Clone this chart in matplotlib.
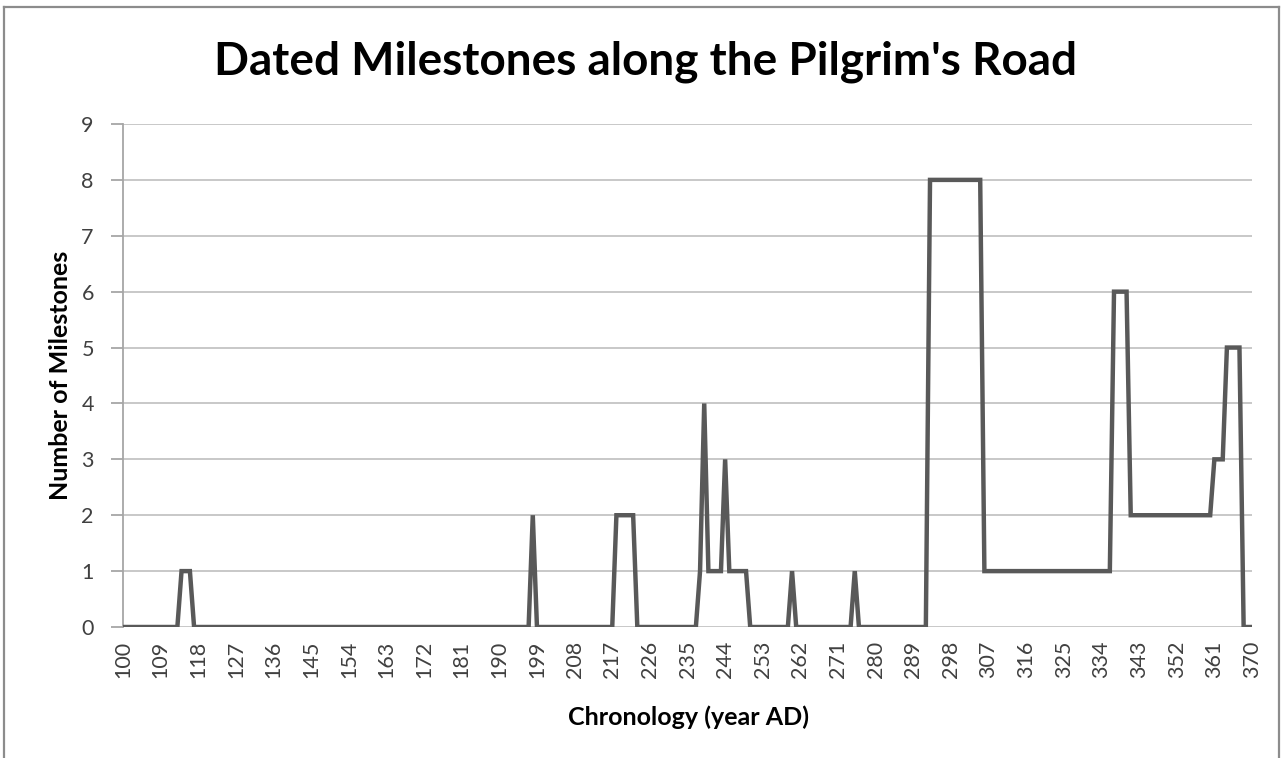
import matplotlib
matplotlib.use("Agg")
import matplotlib.pyplot as plt

# ---- data ----
years = list(range(100, 371))
counts = [
    0, 0, 0, 0, 0, 0, 0, 0, 0, 0,   # 100-109
    0, 0, 0, 0, 1, 1, 1, 0, 0, 0,   # 110-119
    0, 0, 0, 0, 0, 0, 0, 0, 0, 0,   # 120-129
    0, 0, 0, 0, 0, 0, 0, 0, 0, 0,   # 130-139
    0, 0, 0, 0, 0, 0, 0, 0, 0, 0,   # 140-149
    0, 0, 0, 0, 0, 0, 0, 0, 0, 0,   # 150-159
    0, 0, 0, 0, 0, 0, 0, 0, 0, 0,   # 160-169
    0, 0, 0, 0, 0, 0, 0, 0, 0, 0,   # 170-179
    0, 0, 0, 0, 0, 0, 0, 0, 0, 0,   # 180-189
    0, 0, 0, 0, 0, 0, 0, 0, 2, 0,   # 190-199
    0, 0, 0, 0, 0, 0, 0, 0, 0, 0,   # 200-209
    0, 0, 0, 0, 0, 0, 0, 0, 2, 2,   # 210-219
    2, 2, 2, 0, 0, 0, 0, 0, 0, 0,   # 220-229
    0, 0, 0, 0, 0, 0, 0, 0, 1, 4,   # 230-239
    1, 1, 1, 1, 3, 1, 1, 1, 1, 1,   # 240-249
    0, 0, 0, 0, 0, 0, 0, 0, 0, 0,   # 250-259
    1, 0, 0, 0, 0, 0, 0, 0, 0, 0,   # 260-269
    0, 0, 0, 0, 0, 1, 0, 0, 0, 0,   # 270-279
    0, 0, 0, 0, 0, 0, 0, 0, 0, 0,   # 280-289
    0, 0, 0, 8, 8, 8, 8, 8, 8, 8,   # 290-299
    8, 8, 8, 8, 8, 8, 1, 1, 1, 1,   # 300-309
    1, 1, 1, 1, 1, 1, 1, 1, 1, 1,   # 310-319
    1, 1, 1, 1, 1, 1, 1, 1, 1, 1,   # 320-329
    1, 1, 1, 1, 1, 1, 1, 6, 6, 6,   # 330-339
    6, 2, 2, 2, 2, 2, 2, 2, 2, 2,   # 340-349
    2, 2, 2, 2, 2, 2, 2, 2, 2, 2,   # 350-359
    2, 3, 3, 3, 5, 5, 5, 5, 0, 0,   # 360-369
    0,                              # 370
]
tick_labels = [str(y) for y in range(100, 371, 9)]
y_ticks = list(range(0, 10))

title = "Dated Milestones along the Pilgrim's Road"
xlabel = "Chronology (year AD)"
ylabel = "Number of Milestones"

# ---- styling ----
FONT = ["Lato", "DejaVu Sans"]
plt.rcParams["font.family"] = FONT

W, H = 1282, 758
fig = plt.figure(figsize=(W / 100, H / 100), dpi=100)
fig.patch.set_facecolor("white")

# outer chart border (left, top, right; bottom cut off)
border = dict(color="#8c8c8c", lw=1.6, transform=fig.transFigure)
fig.add_artist(plt.Line2D([4 / W, 4 / W], [0, 1 - 7 / H], **border))
fig.add_artist(plt.Line2D([4 / W, 1279 / W], [1 - 7 / H, 1 - 7 / H], **border))
fig.add_artist(plt.Line2D([1279 / W, 1279 / W], [0, 1 - 7 / H], **border))

left, right = 123 / W, 1252 / W
bottom, top = 1 - 627 / H, 1 - 124 / H
ax = fig.add_axes([left, bottom, right - left, top - bottom])

xpos = list(range(len(years)))
ax.plot(xpos, counts, color="#595959", lw=3.2, solid_joinstyle="miter", zorder=3)

ax.set_xlim(0, len(years) - 1)
ax.set_ylim(0, 9)
ax.set_yticks(y_ticks)
ax.set_yticklabels([str(v) for v in y_ticks], fontsize=15.5, color="#404040")
tick_pos = [years.index(int(t)) for t in tick_labels]
ax.set_xticks(tick_pos)
ax.set_xticklabels(tick_labels, rotation=90, fontsize=15.5, color="#404040")

ax.grid(axis="y", color="#c4c4c4", lw=1.3, zorder=0)
ax.set_axisbelow(True)
for s in ["top", "right", "bottom"]:
    ax.spines[s].set_visible(False)
ax.spines["left"].set_color("#a6a6a6")
ax.spines["left"].set_linewidth(1.3)
ax.tick_params(axis="y", length=9, width=1.3, color="#a6a6a6", pad=12)
ax.tick_params(axis="x", length=0, pad=10)

fig.text(645 / W, 1 - 62 / H, title, ha="center", va="center", fontsize=33, fontweight="bold", color="black")
fig.text(688 / W, 1 - 717 / H, xlabel, ha="center", va="center", fontsize=18, fontweight="bold", color="black")
fig.text(60 / W, 1 - 375 / H, ylabel, ha="center", va="center", rotation=90, fontsize=18, fontweight="bold", color="black")

fig.savefig("out.png", dpi=100, facecolor="white")
